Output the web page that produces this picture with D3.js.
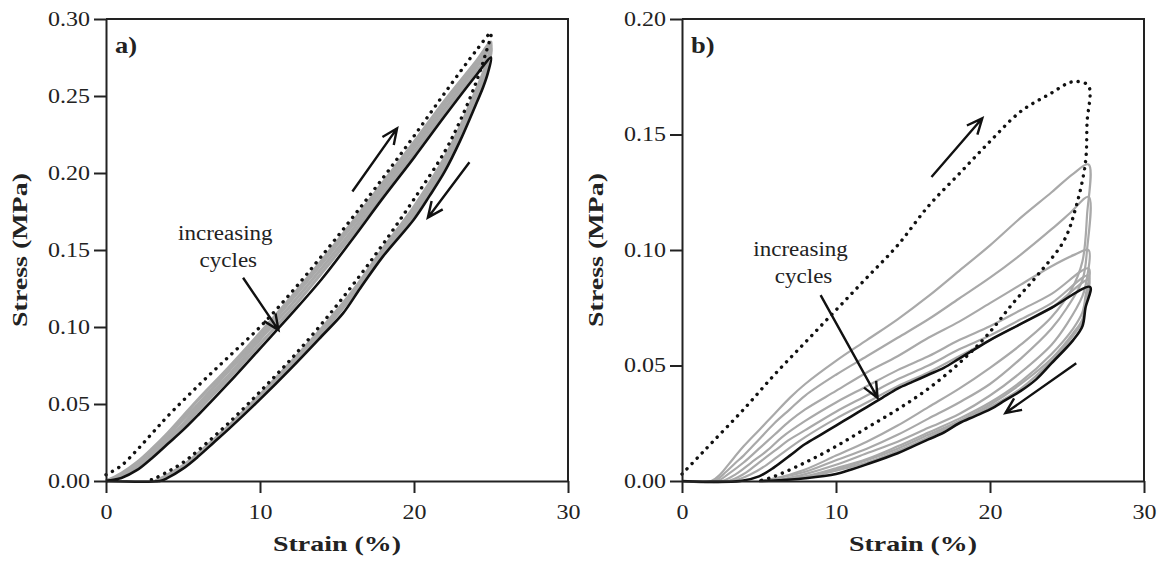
<!DOCTYPE html>
<html>
<head>
<meta charset="utf-8">
<script src="https://cdn.jsdelivr.net/npm/d3@7"></script>
<style>
  body { margin: 0; background: #fff; }
  svg text { font-family: "Liberation Serif", "Times New Roman", serif; fill: #222; }
</style>
</head>
<body>
<svg id="chart" width="1164" height="564"></svg>
<script>
// ---- data: [strain %, stress MPa] ----
var xTicks = [0, 10, 20, 30];
var aYTicks = [0, 0.05, 0.10, 0.15, 0.20, 0.25, 0.30];
var bYTicks = [0, 0.05, 0.10, 0.15, 0.20];

// panel a) first cycle (dotted)
var aFirstLoad = [[0,0.004],[1,0.01],[2,0.02],[3,0.031],[4,0.042],[6,0.062],[8,0.081],[10,0.1],[12,0.122],[14,0.146],[16,0.171],[18,0.197],[20,0.224],[22,0.252],[24,0.279],[25,0.291]];
var aFirstUnload = [[25,0.291],[24.7,0.279],[24,0.258],[23,0.234],[22,0.214],[20,0.183],[18,0.154],[16,0.127],[14,0.102],[12,0.079],[10,0.058],[8,0.038],[6,0.02],[5,0.012],[4,0.006],[3,0.001],[2.6,0]];
// panel a) intermediate cycles (grey)
var aGrayLoad1 = [[0,0],[1,0.005],[2,0.012],[3,0.021],[4,0.031],[5,0.042],[6,0.053],[8,0.074],[10,0.096],[12,0.119],[14,0.143],[16,0.168],[18,0.194],[20,0.22],[22,0.247],[24,0.272],[25,0.285]];
var aGrayLoad2 = [[0,0],[1,0.004],[2,0.011],[3,0.019],[4,0.029],[5,0.04],[6,0.05],[8,0.072],[10,0.094],[12,0.117],[14,0.141],[16,0.166],[18,0.192],[20,0.218],[22,0.245],[24,0.27],[25,0.283]];
var aGrayLoad3 = [[0,0],[1,0.003],[2,0.01],[3,0.018],[4,0.027],[5,0.037],[6,0.048],[8,0.069],[10,0.092],[12,0.114],[14,0.138],[16,0.163],[18,0.19],[20,0.216],[22,0.242],[24,0.268],[25,0.281]];
var aGrayLoad4 = [[0,0],[1,0.003],[2,0.009],[3,0.017],[4,0.026],[5,0.035],[6,0.046],[8,0.067],[10,0.089],[12,0.111],[14,0.135],[16,0.16],[18,0.187],[20,0.213],[22,0.239],[24,0.265],[25,0.278]];
var aGrayUnload1 = [[25,0.283],[24.6,0.268],[24,0.253],[23,0.23],[22,0.21],[20,0.178],[18,0.151],[16,0.123],[14,0.099],[12,0.077],[10,0.056],[8,0.036],[6,0.018],[5,0.01],[4,0.004],[3.2,0]];
var aGrayUnload2 = [[25,0.281],[24.6,0.265],[24,0.25],[23,0.227],[22,0.207],[20,0.175],[18,0.149],[16,0.121],[14,0.097],[12,0.075],[10,0.055],[8,0.035],[6,0.017],[5,0.009],[4,0.003],[3.3,0]];
var aGrayUnload3 = [[25,0.278],[24.6,0.262],[24,0.247],[23,0.224],[22,0.204],[20,0.173],[18,0.148],[16,0.12],[14,0.096],[12,0.074],[10,0.054],[8,0.035],[6,0.017],[5,0.009],[4,0.003],[3.4,0]];
// panel a) last cycle (black)
var aLastLoad = [[0,0],[1,0.002],[2,0.007],[3,0.015],[4,0.024],[5,0.033],[6,0.043],[8,0.064],[10,0.086],[11,0.097],[12,0.108],[14,0.131],[16,0.157],[18,0.184],[20,0.21],[22,0.237],[24,0.263],[25,0.275]];
var aLastUnload = [[25,0.275],[24.8,0.265],[24.5,0.256],[24,0.244],[23,0.221],[22,0.201],[21,0.185],[20,0.17],[18,0.146],[16.5,0.125],[15.4,0.109],[14,0.094],[12,0.073],[10,0.053],[8,0.034],[7,0.025],[6,0.016],[5,0.008],[4,0.002],[3.5,0],[0,0]];

// panel b) first cycle (dotted)
var bFirstLoad = [[0,0.003],[1,0.01],[2,0.017],[4,0.031],[6,0.046],[8,0.06],[10,0.074],[12,0.088],[14,0.102],[16,0.119],[18,0.133],[20,0.147],[22,0.16],[24,0.168],[25,0.172],[25.6,0.173],[26.4,0.171]];
var bFirstUnload = [[26.4,0.171],[26.3,0.155],[26.2,0.138],[25.6,0.119],[24.8,0.104],[23.2,0.09],[21.5,0.077],[19.8,0.063],[18,0.051],[16,0.04],[14,0.031],[12,0.023],[10,0.015],[8,0.008],[6,0.002],[5,0]];
// panel b) intermediate cycles (grey)
var bGrayLoad1 = [[0,0],[1.9,0],[2.5,0.003],[3,0.007],[4,0.015],[5,0.022],[6,0.029],[7,0.036],[8,0.042],[10,0.052],[12,0.061],[14,0.07],[16,0.08],[18,0.091],[20,0.102],[22,0.114],[24,0.125],[25.4,0.133],[26.4,0.137]];
var bGrayLoad2 = [[0,0],[2.1,0],[2.7,0.003],[3.5,0.008],[4,0.011],[5,0.018],[6,0.025],[7,0.031],[8,0.037],[10,0.046],[12,0.054],[14,0.062],[16,0.07],[18,0.079],[20,0.088],[22,0.098],[24,0.109],[25.2,0.116],[26.4,0.123]];
var bGrayLoad3 = [[0,0],[2.3,0],[3,0.003],[4,0.008],[5,0.014],[6,0.02],[7,0.026],[8,0.031],[10,0.039],[12,0.047],[14,0.054],[16,0.062],[18,0.069],[20,0.077],[22,0.085],[24,0.093],[25.5,0.098],[26.4,0.1]];
var bGrayLoad4 = [[0,0],[2.6,0],[3.5,0.003],[4.5,0.008],[5.5,0.013],[6.5,0.019],[8,0.026],[10,0.034],[12,0.041],[14,0.048],[16,0.054],[18,0.061],[20,0.067],[22,0.074],[24,0.081],[26.4,0.092]];
var bGrayLoad5 = [[0,0],[3,0],[4,0.003],[5,0.008],[6,0.013],[7,0.018],[8,0.022],[10,0.03],[12,0.037],[14,0.044],[16,0.05],[18,0.057],[20,0.063],[22,0.07],[24,0.077],[26.4,0.089]];
var bGrayLoad6 = [[0,0],[3.3,0],[4.5,0.003],[5.5,0.007],[6.5,0.012],[8,0.019],[10,0.027],[12,0.034],[14,0.041],[16,0.047],[18,0.054],[20,0.061],[22,0.068],[24,0.075],[26.4,0.087]];
var bGrayUnload1 = [[26.4,0.137],[26.3,0.115],[26,0.095],[25.3,0.083],[24,0.071],[22,0.059],[20,0.049],[18,0.04],[16,0.032],[14,0.024],[12,0.017],[10,0.011],[8,0.005],[6,0.001],[5,0]];
var bGrayUnload2 = [[26.4,0.123],[26.3,0.1],[26,0.087],[25,0.075],[24,0.066],[22,0.053],[20,0.042],[18,0.034],[16,0.027],[14,0.02],[12,0.014],[10,0.009],[8,0.004],[6,0.001],[5.2,0]];
var bGrayUnload3 = [[26.4,0.1],[26.3,0.088],[26,0.08],[25,0.068],[24,0.059],[22,0.047],[20,0.037],[18,0.029],[16,0.023],[14,0.017],[12,0.012],[10,0.007],[8,0.003],[6,0]];
var bGrayUnload4 = [[26.4,0.092],[26.2,0.08],[26,0.073],[25.4,0.066],[24,0.055],[22,0.043],[20,0.034],[18,0.027],[16,0.021],[14,0.015],[12,0.0095],[10,0.0055],[8,0.002],[6,0]];
var bGrayUnload5 = [[26.4,0.089],[26.2,0.078],[26,0.07],[25.4,0.064],[24,0.053],[22,0.042],[20,0.033],[18,0.026],[16,0.02],[14,0.014],[12,0.009],[10,0.005],[8,0.0018],[6,0]];
var bGrayUnload6 = [[26.4,0.087],[26.2,0.077],[26,0.069],[25.4,0.063],[24,0.052],[22,0.04],[20,0.032],[18,0.0255],[16,0.019],[14,0.013],[12,0.008],[10,0.0045],[8,0.0015],[6,0]];
// panel b) last cycle (black)
var bLastLoad = [[0,0],[3.8,0],[5,0.002],[6,0.006],[7,0.011],[8,0.016],[9,0.02],[10,0.024],[11,0.028],[12,0.032],[13,0.036],[14,0.04],[15,0.043],[16,0.046],[17,0.049],[18,0.053],[19,0.057],[20,0.061],[22,0.068],[24,0.075],[26.5,0.084]];
var bLastUnload = [[26.5,0.084],[26.2,0.075],[26,0.067],[25.4,0.061],[24,0.051],[23,0.044],[22,0.039],[21,0.035],[20,0.031],[19,0.028],[18,0.025],[17,0.021],[16,0.018],[15,0.015],[14,0.012],[12,0.0072],[11,0.005],[10,0.003],[8,0.0012],[6,0.0002],[5,0]];

var svg = d3.select("#chart");

// the original figure's lettering is wider than Liberation Serif, stretch it a bit
function widen(sel, k) {
    sel.each(function () {
        var w = this.getComputedTextLength();
        d3.select(this).attr("textLength", w * k).attr("lengthAdjust", "spacingAndGlyphs");
    });
}

function arrow(g, x, y, pts) {
    var x1 = x(pts[0][0]), y1 = y(pts[0][1]), x2 = x(pts[1][0]), y2 = y(pts[1][1]);
    var ang = Math.atan2(y2 - y1, x2 - x1), L = 17, s = 0.42;
    g.append("path")
        .attr("d", "M" + x1 + "," + y1 + "L" + x2 + "," + y2 +
            "M" + (x2 - L * Math.cos(ang - s)) + "," + (y2 - L * Math.sin(ang - s)) +
            "L" + x2 + "," + y2 +
            "L" + (x2 - L * Math.cos(ang + s)) + "," + (y2 - L * Math.sin(ang + s)))
        .attr("fill", "none")
        .attr("stroke", "#111")
        .attr("stroke-width", 2.4)
        .attr("stroke-linejoin", "miter");
}

function drawPanel(p) {
    var x = d3.scaleLinear().domain([0, 30]).range([p.left, p.right]);
    var y = d3.scaleLinear().domain([0, p.yMax]).range([p.bottom, p.top]);
    var g = svg.append("g");

    var line = d3.line()
        .x(function (d) { return x(d[0]); })
        .y(function (d) { return y(d[1]); })
        .curve(d3.curveCatmullRom.alpha(0.5));

    // grey cycles
    p.gray.forEach(function (c) {
        g.append("path")
            .attr("d", line(c))
            .attr("fill", "none")
            .attr("stroke", "#a9a9a9")
            .attr("stroke-width", p.grayWidth);
    });

    // first cycle, dotted
    g.append("path")
        .attr("d", line(p.first))
        .attr("fill", "none")
        .attr("stroke", "#111")
        .attr("stroke-width", 3.4)
        .attr("stroke-linecap", "round")
        .attr("stroke-dasharray", "0.1 7.2");

    // last cycle, black
    g.append("path")
        .attr("d", line(p.last))
        .attr("fill", "none")
        .attr("stroke", "#111")
        .attr("stroke-width", 2.6)
        .attr("stroke-linejoin", "round");

    // frame top + right
    g.append("path")
        .attr("d", "M" + x(0) + "," + y(p.yMax) + "H" + x(30) + "V" + y(0))
        .attr("fill", "none")
        .attr("stroke", "#222")
        .attr("stroke-width", 2);

    var xAxis = g.append("g")
        .attr("transform", "translate(0," + p.bottom + ")")
        .call(d3.axisBottom(x).tickValues(xTicks).tickSize(12).tickSizeOuter(0).tickPadding(12));
    var yAxis = g.append("g")
        .attr("transform", "translate(" + p.left + ",0)")
        .call(d3.axisLeft(y).tickValues(p.yTicks).tickFormat(d3.format(".2f")).tickSize(12).tickSizeOuter(0).tickPadding(4));

    [xAxis, yAxis].forEach(function (ax) {
        ax.select(".domain").attr("stroke", "#222").attr("stroke-width", 2);
        ax.selectAll(".tick line").attr("stroke", "#222").attr("stroke-width", 2);
        ax.selectAll(".tick text")
            .attr("font-family", "Liberation Serif")
            .attr("font-size", 20)
            .attr("fill", "#222");
        widen(ax.selectAll(".tick text"), 1.2);
    });

    // axis titles
    var xt = g.append("text")
        .attr("x", (p.left + p.right) / 2)
        .attr("y", 551)
        .attr("text-anchor", "middle")
        .attr("font-size", 22)
        .attr("font-weight", "bold")
        .text("Strain (%)");
    widen(xt, 1.27);

    var yt = g.append("text")
        .attr("transform", "translate(" + (p.left - 79) + "," + ((p.top + p.bottom) / 2) + ") rotate(-90)")
        .attr("text-anchor", "middle")
        .attr("font-size", 22)
        .attr("font-weight", "bold")
        .text("Stress (MPa)");
    widen(yt, 1.27);

    var pl = g.append("text")
        .attr("x", p.left + 9)
        .attr("y", 53)
        .attr("font-size", 23)
        .attr("font-weight", "bold")
        .text(p.label);
    widen(pl, 1.15);

    // annotation
    var ann = g.append("text")
        .attr("text-anchor", "middle")
        .attr("font-size", 20);
    ann.append("tspan").attr("x", x(p.noteAt[0])).attr("y", y(p.noteAt[1])).text("increasing");
    ann.append("tspan").attr("x", x(p.noteAt[0]) + 3).attr("dy", 27).text("cycles");
    widen(ann.selectAll("tspan"), 1.15);

    p.arrows.forEach(function (a) { arrow(g, x, y, a); });
}

drawPanel({
    left: 106, right: 568, top: 19, bottom: 481,
    yMax: 0.30, yTicks: aYTicks, label: "a)", grayWidth: 3.2,
    gray: [
        aGrayLoad1.concat(aGrayUnload1.slice(1)),
        aGrayLoad2.concat(aGrayUnload2.slice(1)),
        aGrayLoad3.concat(aGrayUnload3.slice(1)),
        aGrayLoad4
    ],
    first: aFirstLoad.concat(aFirstUnload.slice(1)),
    last: aLastLoad.concat(aLastUnload.slice(1)),
    noteAt: [7.75, 0.1565],
    arrows: [
        [[16.0, 0.188], [18.9, 0.229]],
        [[23.6, 0.207], [20.9, 0.171]],
        [[8.9, 0.132], [11.2, 0.098]]
    ]
});

drawPanel({
    left: 682, right: 1144, top: 19, bottom: 481,
    yMax: 0.20, yTicks: bYTicks, label: "b)", grayWidth: 2.2,
    gray: [
        bGrayLoad1.concat(bGrayUnload1.slice(1)),
        bGrayLoad2.concat(bGrayUnload2.slice(1)),
        bGrayLoad3.concat(bGrayUnload3.slice(1)),
        bGrayLoad4.concat(bGrayUnload4.slice(1)),
        bGrayLoad5.concat(bGrayUnload5.slice(1)),
        bGrayLoad6.concat(bGrayUnload6.slice(1))
    ],
    first: bFirstLoad.concat(bFirstUnload.slice(1)),
    last: bLastLoad.concat(bLastUnload.slice(1)),
    noteAt: [7.7, 0.0975],
    arrows: [
        [[16.2, 0.1316], [19.5, 0.157]],
        [[25.6, 0.051], [21.0, 0.0294]],
        [[9.0, 0.0805], [12.7, 0.036]]
    ]
});
</script>
</body>
</html>
